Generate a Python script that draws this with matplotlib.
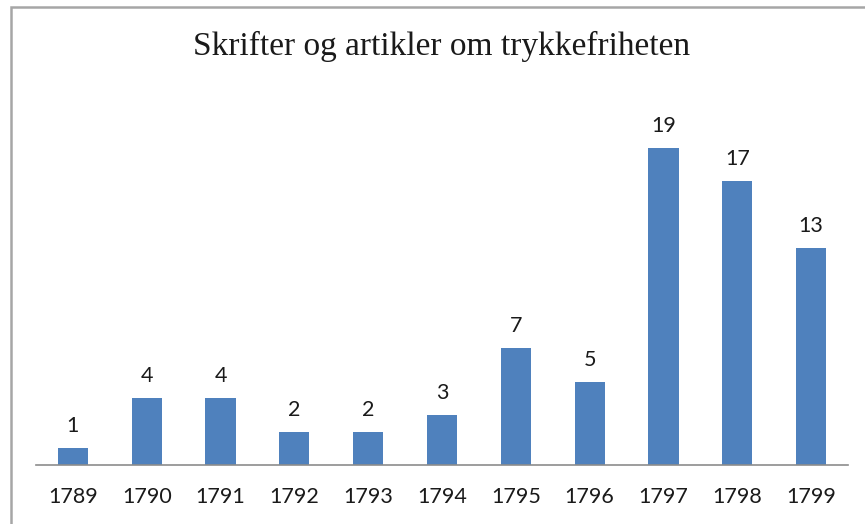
import matplotlib.pyplot as plt
from matplotlib.patches import Rectangle

years = ["1789", "1790", "1791", "1792", "1793", "1794",
         "1795", "1796", "1797", "1798", "1799"]
counts = [1, 4, 4, 2, 2, 3, 7, 5, 19, 17, 13]

W, H = 865, 524
fig = plt.figure(figsize=(W / 100, H / 100), dpi=100)

# plot area in pixel terms: x 36..848, baseline at y=465
ax = fig.add_axes([36 / W, (H - 465) / H, (848 - 36) / W, 334 / H])
x = range(len(years))
ax.bar(x, counts, width=0.41, color="#4F81BD")
ax.set_xlim(-0.5, len(years) - 0.5)
ax.set_ylim(0, 20)

for xi, c in zip(x, counts):
    ax.annotate(str(c), (xi, c), xytext=(0, 8.5), textcoords="offset points",
                ha="center", va="bottom", fontsize=15.5, family="Lato",
                color="#1a1a1a")

ax.set_xticks(list(x))
ax.set_xticklabels(years, fontsize=15.5, family="Lato", color="#1a1a1a")
ax.tick_params(axis="x", length=0, pad=16)
ax.set_yticks([])
for side in ["left", "right", "top"]:
    ax.spines[side].set_visible(False)
ax.spines["bottom"].set_color("#8c8c8c")
ax.spines["bottom"].set_linewidth(1.2)

fig.text(442 / W, 1 - 55 / H, "Skrifter og artikler om trykkefriheten",
         ha="center", va="baseline", fontsize=24, family="Liberation Serif",
         color="#1a1a1a")

# outer chart frame, cut off at right and bottom like the screenshot
fig.patches.append(Rectangle((11 / W, -0.1), 1.2, 1 - 7 / H + 0.1,
                             transform=fig.transFigure, fill=False,
                             edgecolor="#a6a6a6", linewidth=1.8))

fig.savefig("out.png", dpi=100)
